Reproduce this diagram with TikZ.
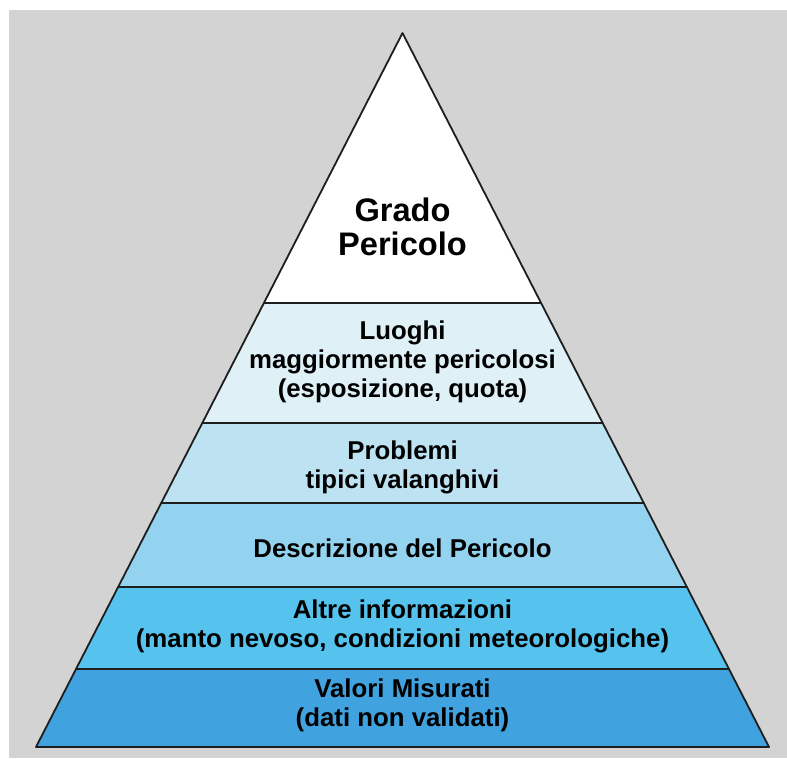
\documentclass[tikz,border=0pt]{standalone}
\usepackage{fontspec}
\setmainfont{Liberation Sans}
\usetikzlibrary{calc}
\definecolor{bggray}{HTML}{D3D3D3}
\definecolor{edge}{HTML}{1E1E1E}
\definecolor{lay1}{HTML}{DFF0F7}
\definecolor{lay2}{HTML}{BDE3F2}
\definecolor{lay3}{HTML}{93D3F0}
\definecolor{lay4}{HTML}{56C3EE}
\definecolor{lay5}{HTML}{40A2DE}
\begin{document}
\begin{tikzpicture}[x=1pt,y=-1pt,
  layer/.style={draw=edge,line width=1.8pt,line join=round},
  lbl/.style={align=center,font=\bfseries\fontsize{25.8}{29}\selectfont,text=black,inner sep=0pt},
  toplbl/.style={align=center,font=\bfseries\fontsize{32.6}{34}\selectfont,text=black,inner sep=0pt}]
\useasboundingbox (0,0) rectangle (787,758);
\fill[white] (0,0) rectangle (787,758);
\fill[bggray] (9,10) rectangle (787,758);
\coordinate (A) at (402.5,33);
\coordinate (L) at (36,747);
\coordinate (R) at (769,747);
% boundary points
\foreach \n/\yy in {a/303,b/423,c/503,d/587,e/669}{
  \coordinate (\n L) at ($(A)!{(\yy-33)/714}!(L)$);
  \coordinate (\n R) at ($(A)!{(\yy-33)/714}!(R)$);
}
\filldraw[layer,fill=white] (A) -- (aR) -- (aL) -- cycle;
\filldraw[layer,fill=lay1] (aL) -- (aR) -- (bR) -- (bL) -- cycle;
\filldraw[layer,fill=lay2] (bL) -- (bR) -- (cR) -- (cL) -- cycle;
\filldraw[layer,fill=lay3] (cL) -- (cR) -- (dR) -- (dL) -- cycle;
\filldraw[layer,fill=lay4] (dL) -- (dR) -- (eR) -- (eL) -- cycle;
\filldraw[layer,fill=lay5] (eL) -- (eR) -- (R) -- (L) -- cycle;
\node[toplbl] (t0) at (402.5,227) {Grado\\Pericolo};
\node[lbl] (t1) at (402.5,362) {Luoghi\\maggiormente pericolosi\\(esposizione, quota)};
\node[lbl] (t2) at (402.5,467) {Problemi\\tipici valanghivi};
\node[lbl] (t3) at (402.5,548) {Descrizione del Pericolo};
\node[lbl] (t4) at (402.5,626) {Altre informazioni\\(manto nevoso, condizioni meteorologiche)};
\node[lbl] (t5) at (402.5,705) {Valori Misurati\\(dati non validati)};
\end{tikzpicture}
\end{document}
